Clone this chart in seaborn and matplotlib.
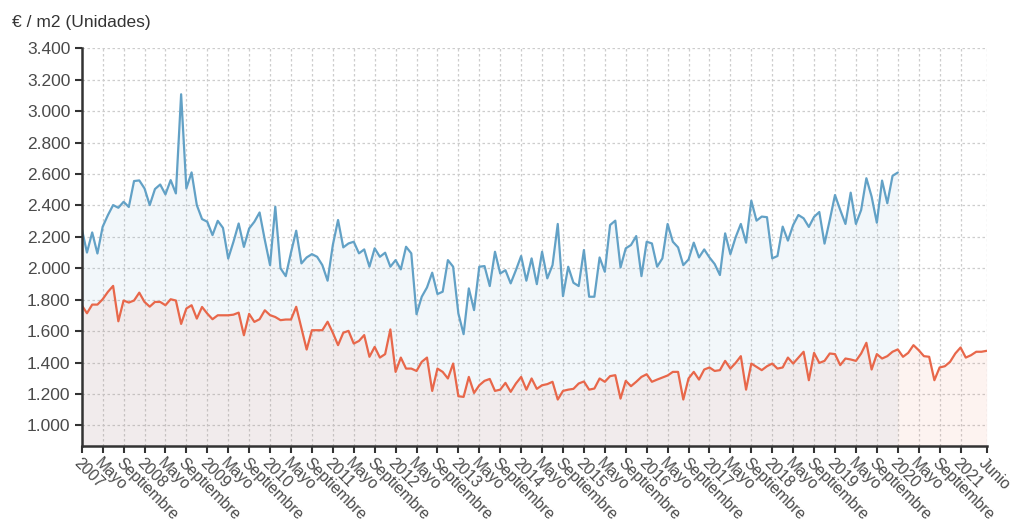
import numpy as np
import pandas as pd
import matplotlib
matplotlib.use("Agg")
import matplotlib.pyplot as plt
import seaborn as sns

# ─── DATA (€/m2, monthly from Jan 2007) ──────────────────────────────────────
blue_values = [
    2253, 2100, 2228, 2094, 2264, 2338, 2402, 2385, 2423, 2390, 2555, 2559,
    2508, 2402, 2504, 2533, 2470, 2561, 2476, 3107, 2508, 2610, 2402, 2313,
    2296, 2211, 2302, 2257, 2062, 2168, 2285, 2136, 2253, 2296, 2355, 2180,
    2020, 2392, 2000, 1950, 2100, 2239, 2031, 2069, 2090, 2073, 2020, 1921,
    2148, 2307, 2133, 2158, 2169, 2095, 2120, 2010, 2127, 2073, 2099, 2010,
    2052, 1993, 2137, 2095, 1708, 1819, 1878, 1972, 1836, 1851, 2052, 2010,
    1713, 1581, 1872, 1734, 2010, 2014, 1887, 2105, 1967, 1988, 1904, 1988,
    2078, 1921, 2063, 1899, 2105, 1936, 2020, 2282, 1823, 2010, 1908, 1887,
    2116, 1819, 1819, 2069, 1978, 2275, 2303, 2005, 2127, 2148, 2205, 1950,
    2169, 2158, 2010, 2063, 2282, 2169, 2133, 2020, 2056, 2163, 2069, 2120,
    2069, 2027, 1957, 2222, 2090, 2197, 2282, 2163, 2430, 2303, 2329, 2325,
    2063, 2078, 2265, 2176, 2275, 2339, 2318, 2263, 2327, 2358, 2157, 2307,
    2466, 2371, 2282, 2481, 2282, 2371, 2573, 2456, 2290, 2558, 2414, 2588,
    2609,
]
red_values = [
    1765, 1714, 1769, 1769, 1803, 1850, 1888, 1663, 1795, 1782, 1795, 1845,
    1786, 1756, 1786, 1786, 1765, 1803, 1795, 1646, 1744, 1765, 1680, 1754,
    1712, 1676, 1701, 1701, 1701, 1705, 1718, 1574, 1710, 1659, 1676, 1733,
    1702, 1690, 1670, 1674, 1674, 1755, 1620, 1483, 1606, 1606, 1606, 1660,
    1590, 1511, 1590, 1602, 1521, 1538, 1575, 1437, 1500, 1432, 1454, 1611,
    1341, 1432, 1362, 1362, 1347, 1405, 1432, 1220, 1362, 1341, 1299, 1394,
    1186, 1182, 1309, 1207, 1256, 1284, 1296, 1220, 1228, 1271, 1214, 1267,
    1309, 1228, 1299, 1233, 1256, 1263, 1278, 1165, 1220, 1228, 1233, 1267,
    1280, 1228, 1235, 1299, 1278, 1314, 1320, 1171, 1284, 1250, 1278, 1309,
    1326, 1278, 1292, 1305, 1318, 1341, 1341, 1165, 1299, 1341, 1292, 1356,
    1369, 1347, 1352, 1411, 1362, 1398, 1441, 1228, 1394, 1373, 1352, 1377,
    1394, 1362, 1369, 1432, 1394, 1432, 1469, 1288, 1462, 1398, 1411, 1458,
    1454, 1384, 1426, 1420, 1411, 1458, 1526, 1356, 1454, 1426, 1441, 1469,
    1484, 1437, 1462, 1511, 1479, 1441, 1437, 1288, 1369, 1377, 1405, 1458,
    1496, 1432, 1447, 1469, 1469, 1475,
]
years = list(range(2007, 2022))
month_names = ["Mayo", "Septiembre"]
last_label = "Junio"
y_ticks = list(range(1000, 3401, 200))

# ─── STYLE ───────────────────────────────────────────────────────────────────
sns.set_theme(style="whitegrid")
plt.rcParams["font.family"] = ["Liberation Sans", "DejaVu Sans"]

BLUE = "#62a1c6"
RED = "#e8674a"
TEXT = "#4a4a4a"
Y_MIN, Y_MAX = 870, 3400

blue_df = pd.DataFrame({"idx": np.arange(len(blue_values)), "valor": blue_values})
red_df = pd.DataFrame({"idx": np.arange(len(red_values)), "valor": red_values})

fig = plt.figure(figsize=(10.32, 5.24), dpi=100)
ax = fig.add_axes([0.0792, 0.149, 0.8769, 0.759])
ax.set_facecolor("white")

# soft area fills under each series
ax.fill_between(blue_df["idx"], blue_df["valor"], Y_MIN, color=BLUE, alpha=0.08, lw=0)
ax.fill_between(red_df["idx"], red_df["valor"], Y_MIN, color=RED, alpha=0.08, lw=0)

sns.lineplot(data=blue_df, x="idx", y="valor", ax=ax, color=BLUE, lw=1.6)
sns.lineplot(data=red_df, x="idx", y="valor", ax=ax, color=RED, lw=1.6)

# ─── AXES ────────────────────────────────────────────────────────────────────
n = len(red_values)
tick_pos, tick_lab = [], []
k = 0
for y in years[:-1]:
    for lab in [str(y)] + month_names:
        tick_pos.append(k * 4)
        tick_lab.append(lab)
        k += 1
tick_pos.append(k * 4)
tick_lab.append(str(years[-1]))
tick_pos.append(n - 1)
tick_lab.append(last_label)

ax.set_xlim(0, n - 1)
ax.set_ylim(Y_MIN, Y_MAX)
ax.set_xticks(tick_pos)
ax.set_xticklabels(tick_lab, rotation=-45, ha="left", va="top",
                   rotation_mode="anchor", fontsize=11.3, color=TEXT)
ax.set_yticks(y_ticks)
ax.set_yticklabels([f"{v:,}".replace(",", ".") for v in y_ticks],
                   fontsize=12.5, color=TEXT)
ax.set_xlabel("")
ax.set_ylabel("")

ax.grid(True, color="#cdcdcd", linestyle=(0, (2, 2)), lw=0.9)
for side in ["top", "right"]:
    ax.spines[side].set_visible(False)
for side in ["left", "bottom"]:
    ax.spines[side].set_visible(True)
    ax.spines[side].set_color("#333333")
    ax.spines[side].set_linewidth(1.8)
ax.tick_params(axis="both", which="major", length=5, width=1.5, color="#333333",
               direction="out", bottom=True, left=True)
ax.tick_params(axis="x", pad=2)
ax.tick_params(axis="y", pad=3)

fig.text(0.012, 0.958, "€ / m2 (Unidades)", fontsize=12.5, color="#333333",
         va="center", ha="left")

plt.savefig("out.png", dpi=100, facecolor="white")
plt.close()
